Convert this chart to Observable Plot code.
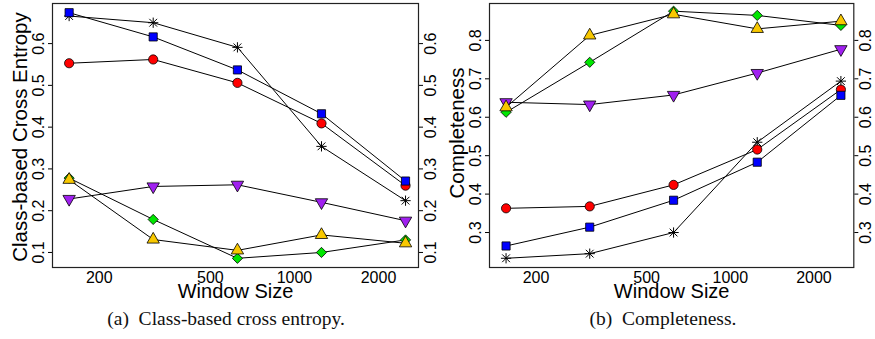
<!DOCTYPE html>
<html>
<head>
<meta charset="utf-8">
<script src="https://cdn.jsdelivr.net/npm/d3@7"></script>
<script src="https://cdn.jsdelivr.net/npm/@observablehq/plot@0.6"></script>
<style>
  html, body { margin: 0; padding: 0; background: white; }
  #wrap { position: relative; width: 875px; height: 339px; overflow: hidden; }
  #row { display: flex; flex-direction: row; }
  #row svg { overflow: visible; }
  .cap { position: absolute; top: 308px; font-family: "Liberation Serif", "Times New Roman", serif;
         font-size: 19.5px; line-height: 22px; transform: translateX(-50%); white-space: nowrap; color: #111; }
  .ytitle { position: absolute; font-family: "Liberation Sans", Arial, Helvetica, sans-serif;
            font-size: 20.5px; line-height: 20px; white-space: nowrap; color: black;
            transform: translate(-50%, -50%) rotate(-90deg); }
</style>
</head>
<body>
<div id="wrap">
  <div id="row"></div>
  <div class="ytitle" id="ytA" style="left:20px; top:137px"></div>
  <div class="ytitle" id="ytB" style="left:457px; top:133px"></div>
  <div class="cap" id="capA" style="left:226px"></div>
  <div class="cap" id="capB" style="left:663px"></div>
</div>
<script>
// ---- data ----
const windowSizes = [156, 312, 625, 1250, 2500];
const xTicks = [200, 500, 1000, 2000];

// (a) Class-based cross entropy
const ceSquare   = [0.674, 0.616, 0.537, 0.432, 0.271];
const ceStar     = [0.666, 0.650, 0.591, 0.354, 0.224];
const ceCircle   = [0.553, 0.562, 0.506, 0.409, 0.260];
const ceDown     = [0.228, 0.258, 0.262, 0.220, 0.176];
const ceDiamond  = [0.278, 0.179, 0.086, 0.100, 0.130];
const ceTriangle = [0.274, 0.131, 0.105, 0.142, 0.122];
const ceTicks = [0.1, 0.2, 0.3, 0.4, 0.5, 0.6];

// (b) Completeness
const compSquare   = [0.265, 0.314, 0.384, 0.483, 0.657];
const compStar     = [0.233, 0.245, 0.300, 0.535, 0.694];
const compCircle   = [0.363, 0.368, 0.424, 0.516, 0.672];
const compDown     = [0.639, 0.633, 0.658, 0.715, 0.777];
const compDiamond  = [0.613, 0.743, 0.876, 0.865, 0.839];
const compTriangle = [0.626, 0.813, 0.868, 0.830, 0.850];
const compTicks = [0.3, 0.4, 0.5, 0.6, 0.7, 0.8];

const titleA = "Class-based Cross Entropy";
const titleB = "Completeness";
const xTitle = "Window Size";
const captionA = "(a)\u00a0\u00a0Class-based cross entropy.";
const captionB = "(b)\u00a0\u00a0Completeness.";

// ---- styles per series ----
const styles = {
  down:     {symbol: "triangle", fill: "#A020F0", rotate: 180},
  diamond:  {symbol: "diamond2", fill: "#00E600", rotate: 0},
  triangle: {symbol: "triangle", fill: "#F8C800", rotate: 0},
  circle:   {symbol: "circle",   fill: "#FF0000", rotate: 0},
  square:   {symbol: "square",   fill: "#0000FF", rotate: 0}
};

function rows(seriesMap) {
  const out = [];
  for (const [name, vals] of Object.entries(seriesMap)) {
    vals.forEach((v, i) => out.push({series: name, size: windowSizes[i], value: v}));
  }
  return out;
}

function panel({data, width, marginLeft, marginRight, yDomain, yTicks}) {
  const marks = [
    Plot.axisX({ticks: xTicks, tickSize: 0, tickPadding: 4, fontSize: 16, label: null, tickFormat: d => String(d)}),
    Plot.axisY({anchor: "left", ticks: yTicks, tickSize: 4, tickRotate: -90, textAnchor: "middle",
                lineAnchor: "bottom", tickPadding: 5, fontSize: 16, label: null, tickFormat: d3.format(".1f")}),
    Plot.axisY({anchor: "right", ticks: yTicks, tickSize: 4, tickRotate: -90, textAnchor: "middle",
                lineAnchor: "top", tickPadding: 2, fontSize: 16, label: null, tickFormat: d3.format(".1f")}),
    Plot.frame({stroke: "#222", strokeWidth: 1.2}),
    Plot.text([xTitle], {text: d => d, frameAnchor: "bottom", dy: 30, lineAnchor: "bottom", fontSize: 20}),
    Plot.line(data, {x: "size", y: "value", z: "series", stroke: "black", strokeWidth: 1})
  ];
  const order = ["down", "diamond", "triangle", "circle", "square"];
  const star = data.filter(d => d.series === "star");
  marks.push(Plot.dot(star, {x: "size", y: "value", symbol: "plus", r: 3.4, stroke: "black", strokeWidth: 1}));
  marks.push(Plot.dot(star, {x: "size", y: "value", symbol: "times", r: 3.6, stroke: "black", strokeWidth: 1}));
  for (const s of order) {
    const st = styles[s];
    marks.push(Plot.dot(data.filter(d => d.series === s), {
      x: "size", y: "value", symbol: st.symbol, r: 4.6, fill: st.fill, stroke: "black",
      strokeWidth: 0.8, rotate: st.rotate
    }));
  }
  return Plot.plot({
    width, height: 300,
    marginLeft, marginRight, marginTop: 3, marginBottom: 33,
    style: {fontFamily: "'Liberation Sans', Arial, Helvetica, sans-serif", background: "transparent", color: "black"},
    x: {type: "log", domain: [136, 2782]},
    y: {domain: yDomain},
    marks
  });
}

const dataA = rows({down: ceDown, diamond: ceDiamond, triangle: ceTriangle, circle: ceCircle, star: ceStar, square: ceSquare});
const dataB = rows({down: compDown, diamond: compDiamond, triangle: compTriangle, circle: compCircle, star: compStar, square: compSquare});

const row = document.getElementById("row");
row.appendChild(panel({data: dataA, width: 441, marginLeft: 52, marginRight: 23, yDomain: [0.064, 0.696], yTicks: ceTicks}));
row.appendChild(panel({data: dataB, width: 434, marginLeft: 48, marginRight: 21.7, yDomain: [0.209, 0.896], yTicks: compTicks}));
document.getElementById("ytA").textContent = titleA;
document.getElementById("ytB").textContent = titleB;
document.getElementById("capA").textContent = captionA;
document.getElementById("capB").textContent = captionB;
</script>
</body>
</html>
